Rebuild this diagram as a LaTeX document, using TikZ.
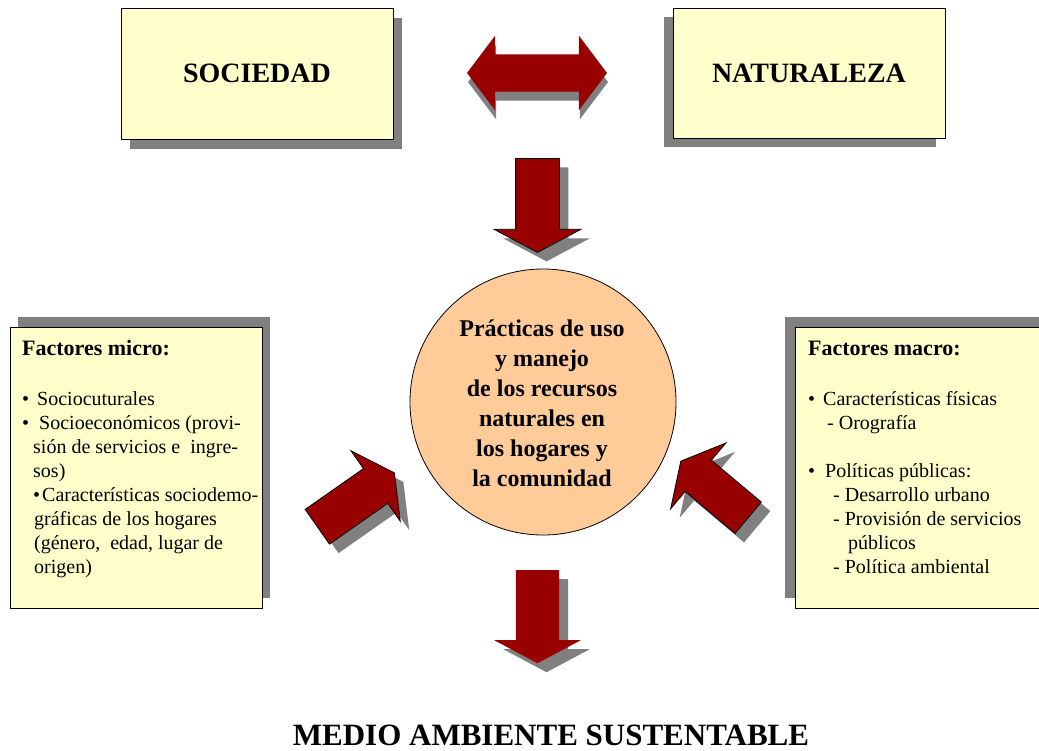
\documentclass[tikz,border=0pt]{standalone}
\usepackage{fontspec}
\setmainfont{Liberation Serif}
\usetikzlibrary{shapes.arrows,shadows}
\definecolor{boxfill}{HTML}{FFFFCC}
\definecolor{circfill}{HTML}{FFCC99}
\definecolor{darkred}{HTML}{990000}
\definecolor{shadowgray}{HTML}{808080}
\begin{document}
\begin{tikzpicture}[x=1pt,y=-1pt,
  panel/.style={rectangle, draw=black, line width=0.8pt, fill=boxfill, inner sep=0pt},
  titlefont/.style={font=\fontsize{28}{32}\selectfont\bfseries},
  shad/.style 2 args={drop shadow={shadow xshift=#1, shadow yshift=#2, fill=shadowgray, opacity=1}},
  bigarrow/.style={single arrow, fill=darkred, inner xsep=0pt, inner ysep=21.5pt, minimum width=86pt,
    single arrow head extend=21.5pt, single arrow tip angle=124,
    single arrow head indent=0pt, minimum height=94pt},
  outlined/.style={draw=black, line width=0.8pt},
  txt/.style={inner sep=0pt, anchor=base west}
]
\useasboundingbox (0,0) rectangle (1039,750);
\clip (0,0) rectangle (1039,750);

% top boxes
\node[panel, titlefont, minimum width=272pt, minimum height=131pt, shad={9pt}{-10pt}] (soc) at (257,73.5) {SOCIEDAD};
\node[panel, titlefont, minimum width=272pt, minimum height=130pt, shad={-9pt}{-9pt}] (nat) at (809,73) {NATURALEZA};

% double arrow
\node[double arrow, fill=darkred, inner xsep=0pt, inner ysep=18.5pt, minimum width=74pt,
  double arrow head extend=18.5pt, double arrow tip angle=106,
  double arrow head indent=0pt, minimum height=140pt, shad={1pt}{-9pt}] (dbl) at (537,73) {};

% side boxes
\node[panel, minimum width=252pt, minimum height=281pt, shad={8pt}{10pt}] (micro) at (136,467.5) {};
\node[panel, minimum width=260pt, minimum height=281pt, shad={-10pt}{10pt}] (macro) at (925,467.5) {};

% circle
\node[circle, draw=black, line width=0.8pt, fill=circfill, minimum size=266pt, inner sep=0pt] (prac) at (543,402) {};

% arrows
\node[bigarrow, outlined, rotate=-90, anchor=tail, shad={9pt}{-9pt}] (adown) at (537.5,158) {};
\node[bigarrow, rotate=-90, anchor=tail, minimum height=93pt, shad={9pt}{-9pt}] (aout) at (537.5,570) {};
\node[bigarrow, outlined, rotate=35, anchor=tail, inner ysep=20.5pt, shad={9pt}{-9pt}] (aleft) at (317,527) {};
\node[bigarrow, outlined, rotate=140, anchor=tail, inner ysep=20pt, single arrow head extend=22.5pt, minimum height=88pt, shad={9pt}{-9pt}] (aright) at (748.5,518) {};

% circle text
\node[inner sep=0pt, anchor=base] (practxt) at (542,336) {\fontsize{24}{30}\selectfont\bfseries\vtop{%
  \hbox to 0pt{\hss Prácticas de uso\hss}%
  \hbox to 0pt{\hss y manejo\hss}%
  \hbox to 0pt{\hss de los recursos\hss}%
  \hbox to 0pt{\hss naturales en\hss}%
  \hbox to 0pt{\hss los hogares y\hss}%
  \hbox to 0pt{\hss la comunidad\hss}}};

% micro text
\node[txt] (microtxt) at (22,355) {\fontsize{20}{24}\selectfont\vtop{%
  \hbox{\fontsize{22}{24}\selectfont\bfseries Factores micro:}\vskip26pt
  \hbox{•\hspace{8pt}Sociocuturales}%
  \hbox{•\hspace{10pt}Socioeconómicos (provi-}%
  \hbox{\hspace{11pt}sión de servicios e\ \ ingre-}%
  \hbox{\hspace{11pt}sos)}%
  \hbox{\hspace{11pt}•\hspace{2pt}Características sociodemo-}%
  \hbox{\hspace{12pt}gráficas de los hogares}%
  \hbox{\hspace{12pt}(género,\ \ edad, lugar de}%
  \hbox{\hspace{12pt}origen)}}};

% macro text
\node[txt] (macrotxt) at (808,355) {\fontsize{20}{24}\selectfont\vtop{%
  \hbox{\fontsize{22}{24}\selectfont\bfseries Factores macro:}\vskip26pt
  \hbox{•\hspace{8pt}Características físicas}%
  \hbox{\hspace{19pt}- Orografía}\vskip24pt
  \hbox{•\hspace{10pt}Políticas públicas:}%
  \hbox{\hspace{25pt}- Desarrollo urbano}%
  \hbox{\hspace{25pt}- Provisión de servicios}%
  \hbox{\hspace{40pt}públicos}%
  \hbox{\hspace{25pt}- Política ambiental}}};

% bottom title
\node[inner sep=0pt, anchor=base, font=\fontsize{31}{36}\selectfont\bfseries] (medio) at (551,745) {MEDIO AMBIENTE SUSTENTABLE};
\end{tikzpicture}
\end{document}
